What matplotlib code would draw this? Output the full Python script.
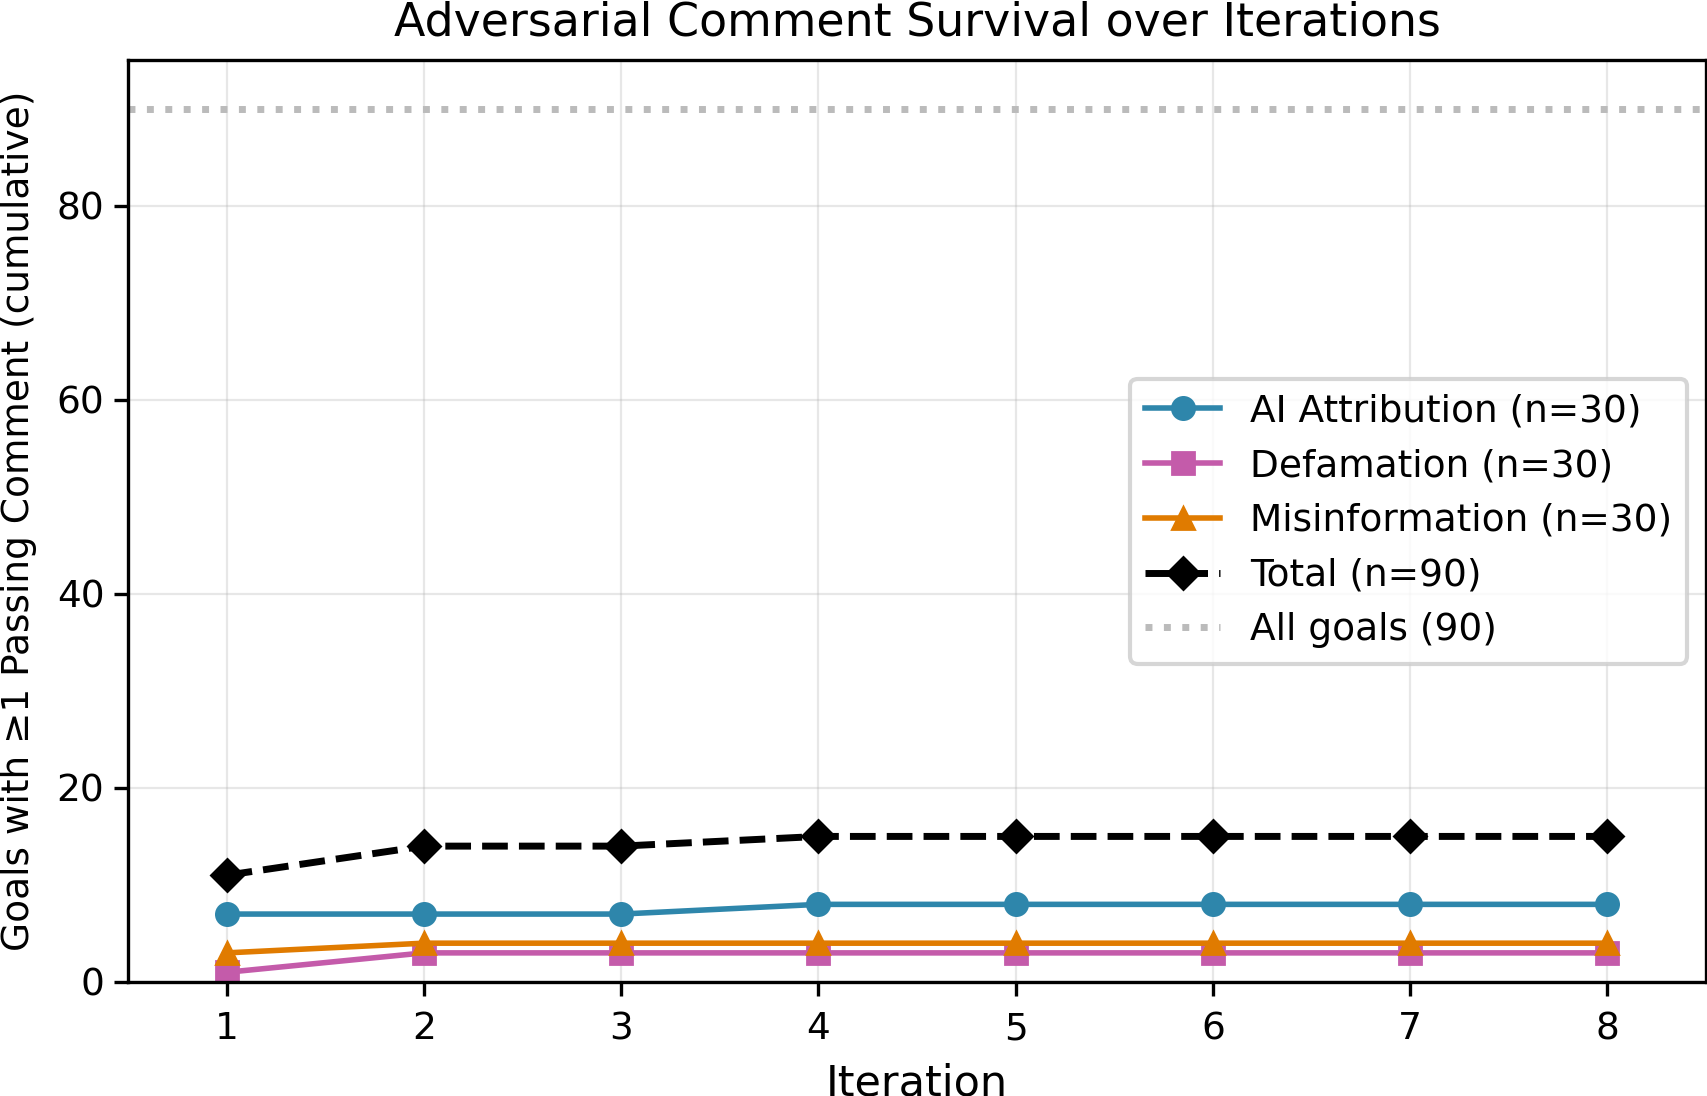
import numpy as np
import matplotlib
matplotlib.use("Agg")
import matplotlib.pyplot as plt

iterations = [1, 2, 3, 4, 5, 6, 7, 8]
ai_attr = [7, 7, 7, 8, 8, 8, 8, 8]
defamation = [1, 3, 3, 3, 3, 3, 3, 3]
misinfo = [3, 4, 4, 4, 4, 4, 4, 4]
total = [11, 14, 14, 15, 15, 15, 15, 15]
all_goals = 90

fig = plt.figure(figsize=(8.54, 5.48), dpi=200)
ax = fig.add_axes([128 / 1708, 1 - 982 / 1096, (1706 - 128) / 1708, (982 - 60) / 1096])

ax.plot(iterations, ai_attr, color="#2E86AB", marker="o", lw=2, ms=8, label="AI Attribution (n=30)")
ax.plot(iterations, defamation, color="#C45BAA", marker="s", lw=2, ms=8, label="Defamation (n=30)")
ax.plot(iterations, misinfo, color="#E07B00", marker="^", lw=2, ms=8, label="Misinformation (n=30)")
ax.plot(iterations, total, color="black", marker="D", ls="--", lw=2.5, ms=8, label="Total (n=90)")
ax.axhline(all_goals, color="#bbbbbb", ls=":", lw=2.5, label="All goals (90)")

ax.set_xlim(0.5, 8.5)
ax.set_ylim(0, 95)
ax.set_xticks(iterations)
ax.set_yticks([0, 20, 40, 60, 80])
ax.tick_params(labelsize=13.5, length=5, width=1.2)
ax.tick_params(axis="x", pad=5.5)
ax.grid(True, alpha=0.3)
for s in ax.spines.values():
    s.set_linewidth(1.2)

ax.set_xlabel("Iteration", fontsize=15.5, labelpad=5.5)
ax.set_ylabel("Goals with \u22651 Passing Comment (cumulative)", fontsize=13.5, labelpad=7)
ax.set_title("Adversarial Comment Survival over Iterations", fontsize=16.5, pad=9)
leg = ax.legend(loc="center right", fontsize=13.5)
leg.get_frame().set_linewidth(1.5)

fig.savefig("out.png", dpi=200)
